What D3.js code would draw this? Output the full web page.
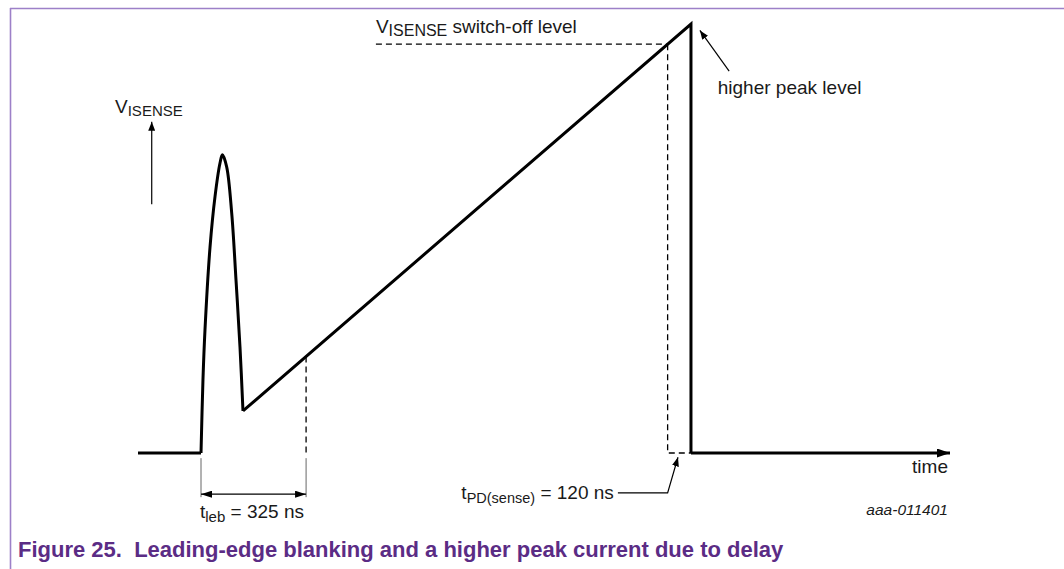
<!DOCTYPE html>
<html lang="en">
<head>
    <meta charset="UTF-8">
    <title>Leading-edge blanking</title>
    <script src="https://d3js.org/d3.v7.min.js"></script>
    <style>
        body { margin: 0; background: #fff; }
        text { font-family: "Liberation Sans", Arial, sans-serif; fill: #1a1a1a; }
        .wave { fill: none; stroke: #000; stroke-width: 3; stroke-linejoin: miter; }
        .dash { fill: none; stroke: #000; stroke-width: 1.3; stroke-dasharray: 6,4; }
        .thin { fill: none; stroke: #000; stroke-width: 1.2; }
        .ext { fill: none; stroke: #666; stroke-width: 1; }
        .frame { stroke: #9d80c8; stroke-width: 1.6; }
        .caption { font-weight: bold; font-size: 22px; fill: #5b2c85; white-space: pre; }
    </style>
</head>
<body>
    <svg id="diagram" width="1064" height="569"></svg>

    <script>
        // waveform in arbitrary units: time 0..100, V_ISENSE 0..100 (not to scale)
        const baseline = [[0, 0], [7.76, 0]];
        const pulse = [[7.76, 0], [8.0, 17.0], [8.25, 28.7], [8.87, 48.0], [9.48, 59.7],
                       [10.1, 67.6], [10.39, 69.5], [10.92, 66.7], [11.54, 55.9],
                       [12.07, 40.3], [12.56, 24.7], [12.93, 9.8]];
        const ramp = [[12.93, 9.8], [68.1, 100], [68.1, 0], [100, 0]];

        const switchOffLevel = 95.3;  // V_ISENSE switch-off level
        const blankingEnd = 20.7;     // end of t_leb window

        const labelAxis = ['V', 'ISENSE'];
        const labelSwitch = ['V', 'ISENSE', ' switch-off level'];
        const labelPeak = 'higher peak level';
        const labelTime = 'time';
        const labelLeb = ['t', 'leb', ' = 325 ns'];
        const labelPd = ['t', 'PD(sense)', ' = 120 ns'];
        const figId = 'aaa-011401';
        const caption = 'Figure 25.  Leading-edge blanking and a higher peak current due to delay';

        const svg = d3.select('#diagram');
        const x = d3.scaleLinear().domain([0, 100]).range([138, 950]);
        const y = d3.scaleLinear().domain([0, 100]).range([453, 24]);

        // arrowheads
        const defs = svg.append('defs');
        function marker(id, w, h) {
            defs.append('marker')
                .attr('id', id)
                .attr('viewBox', `0 0 ${w} ${h}`)
                .attr('refX', w).attr('refY', h / 2)
                .attr('markerWidth', w).attr('markerHeight', h)
                .attr('markerUnits', 'userSpaceOnUse')
                .attr('orient', 'auto-start-reverse')
                .append('path')
                .attr('d', `M0,0L${w},${h / 2}L0,${h}Z`)
                .attr('fill', '#000');
        }
        marker('big', 13, 9);
        marker('mid', 11, 7);
        marker('small', 9, 7);

        // frame
        svg.append('line').attr('class', 'frame')
            .attr('x1', 10).attr('y1', 8.5).attr('x2', 1064).attr('y2', 8.5);
        svg.append('line').attr('class', 'frame')
            .attr('x1', 10.5).attr('y1', 8).attr('x2', 10.5).attr('y2', 569);

        const line = d3.line().x(d => x(d[0])).y(d => y(d[1]));

        // ramp slope, for where the dashed verticals meet it
        const rampAt = t => {
            const [a, b] = ramp;
            return a[1] + (b[1] - a[1]) * (t - a[0]) / (b[0] - a[0]);
        };
        const rampTimeAt = v => {
            const [a, b] = ramp;
            return a[0] + (b[0] - a[0]) * (v - a[1]) / (b[1] - a[1]);
        };
        const switchT = rampTimeAt(switchOffLevel);
        const peakT = ramp[1][0];

        // dashed helpers
        svg.append('path').attr('class', 'dash')
            .attr('d', line([[29.3, switchOffLevel], [switchT, switchOffLevel]]));
        svg.append('path').attr('class', 'dash')
            .attr('d', line([[switchT, switchOffLevel], [switchT, 0], [peakT, 0]]));
        svg.append('path').attr('class', 'dash')
            .attr('d', line([[blankingEnd, rampAt(blankingEnd)], [blankingEnd, 0]]));

        // waveform
        svg.append('path').attr('class', 'wave').attr('d', line(baseline));
        svg.append('path').attr('class', 'wave')
            .attr('d', line.curve(d3.curveCatmullRom.alpha(0.5))(pulse));
        line.curve(d3.curveLinear);
        svg.append('path').attr('class', 'wave')
            .attr('d', line(ramp.slice(0, 3)));
        svg.append('path').attr('class', 'wave')
            .attr('d', line(ramp.slice(2)))
            .attr('marker-end', 'url(#big)');

        // vertical axis arrow
        svg.append('line').attr('class', 'thin')
            .attr('x1', x(1.69)).attr('y1', y(58))
            .attr('x2', x(1.69)).attr('y2', y(77.2))
            .attr('marker-end', 'url(#small)');

        function subText(parts, px, py, anchor, subDy, subSize) {
            const t = svg.append('text')
                .attr('x', px).attr('y', py)
                .attr('font-size', 19)
                .attr('text-anchor', anchor || 'start')
                .style('white-space', 'pre');
            parts.forEach((p, i) => {
                const ts = t.append('tspan').text(p);
                if (i === 1) ts.attr('font-size', subSize || 15).attr('dy', subDy);
                if (i === 2) ts.attr('dy', -subDy);
            });
            return t;
        }

        subText(labelAxis, x(-2.83), y(79.3), 'start', 3);
        subText(labelSwitch, x(29.3), y(97.9), 'start', 3, 16);

        // higher peak level
        svg.append('line').attr('class', 'thin')
            .attr('stroke-width', 1)
            .attr('x1', x(72.8)).attr('y1', y(89))
            .attr('x2', x(69.2)).attr('y2', y(98.5))
            .attr('marker-end', 'url(#small)');
        svg.append('text').attr('font-size', 19)
            .attr('x', x(71.4)).attr('y', y(83.7))
            .text(labelPeak);

        // time label
        svg.append('text').attr('font-size', 19)
            .attr('text-anchor', 'end')
            .attr('x', x(99.75)).attr('y', y(-4.6))
            .text(labelTime);

        // t_leb dimension
        const lebStart = pulse[0][0];
        [lebStart, blankingEnd].forEach(t => {
            svg.append('line').attr('class', 'ext')
                .attr('x1', x(t)).attr('y1', y(-1.2))
                .attr('x2', x(t)).attr('y2', y(-10.3));
        });
        svg.append('line').attr('class', 'thin')
            .attr('stroke-width', 1.5)
            .attr('x1', x(lebStart)).attr('y1', y(-9.6))
            .attr('x2', x(blankingEnd)).attr('y2', y(-9.6))
            .attr('marker-start', 'url(#mid)')
            .attr('marker-end', 'url(#mid)');
        subText(labelLeb, x(lebStart) - 1, y(-15.2), 'start', 4);

        // t_PD leader
        svg.append('path').attr('class', 'thin').attr('stroke-width', 1)
            .attr('d', line([[59.1, -9.3], [switchT, -9.3], [66.5, -1.0]]))
            .attr('marker-end', 'url(#small)');
        subText(labelPd, x(58.6), y(-10.8), 'end', 4, 14.5);

        // figure id
        svg.append('text').attr('font-size', 15.5)
            .attr('font-style', 'italic')
            .attr('text-anchor', 'end')
            .attr('x', x(99.75)).attr('y', y(-14.4))
            .text(figId);

        svg.append('text').attr('class', 'caption')
            .attr('x', 18).attr('y', 557)
            .text(caption);
    </script>
</body>
</html>
